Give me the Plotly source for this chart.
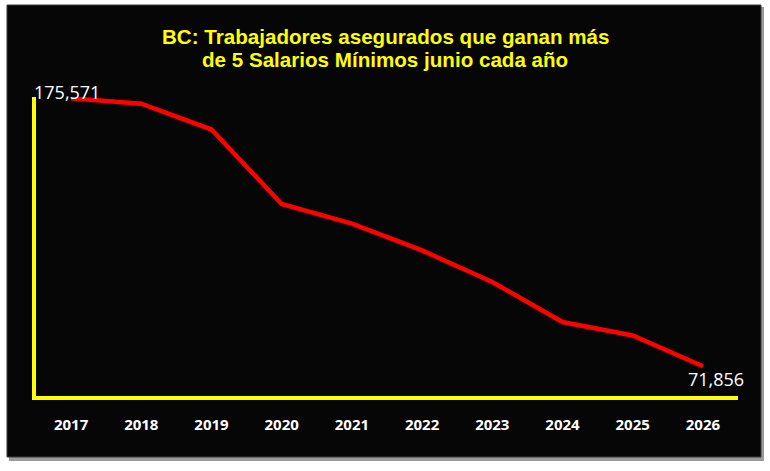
import plotly.graph_objects as go

years = [2017, 2018, 2019, 2020, 2021, 2022, 2023, 2024, 2025, 2026]
workers = [175571, 173500, 163500, 134700, 127100, 116700, 104500, 89000, 83800, 71856]
title_lines = ["BC: Trabajadores asegurados que ganan más",
               "de 5 Salarios Mínimos junio cada año"]

W, H = 770, 471
def px(x):
    return x / W
def py(y):
    return 1 - y / H

fig = go.Figure()
fig.add_trace(go.Scatter(
    x=years, y=workers, mode="lines",
    line=dict(color="#FF0000", width=4.5),
    hoverinfo="skip", showlegend=False,
))

shapes = [
    dict(type="rect", xref="paper", yref="paper", x0=px(9), x1=px(764), y0=py(461), y1=py(7),
         fillcolor="#9a9a9a", line=dict(width=0), layer="below"),
    dict(type="rect", xref="paper", yref="paper", x0=px(7), x1=px(761), y0=py(457), y1=py(5),
         fillcolor="#060606", line=dict(color="#3a3a3a", width=1), layer="below"),
]

annotations = [
    dict(text=title_lines[0], xref="paper", yref="paper", x=0.5, y=py(37),
         xanchor="center", yanchor="middle", showarrow=False,
         font=dict(family="Liberation Sans", size=20.6, color="#FFFF00", weight="bold")),
    dict(text=title_lines[1], xref="paper", yref="paper", x=0.5, y=py(59.5),
         xanchor="center", yanchor="middle", showarrow=False,
         font=dict(family="Liberation Sans", size=20.6, color="#FFFF00", weight="bold")),
    dict(text=f"{workers[0]:,}", x=years[0], y=workers[0], xref="x", yref="y",
         xanchor="center", yanchor="middle", yshift=6, xshift=-4, showarrow=False,
         font=dict(family="Open Sans", size=18, color="#FFFFFF")),
    dict(text=f"{workers[-1]:,}", x=years[-1], y=workers[-1], xref="x", yref="y",
         xanchor="center", yanchor="middle", yshift=-13, xshift=13, showarrow=False,
         font=dict(family="Open Sans", size=18, color="#FFFFFF")),
]

fig.update_layout(
    width=W, height=H,
    margin=dict(l=0, r=0, t=0, b=0),
    paper_bgcolor="#FFFFFF",
    plot_bgcolor="rgba(0,0,0,0)",
    shapes=shapes,
    annotations=annotations,
    showlegend=False,
    xaxis=dict(
        domain=[px(36), px(738)],
        range=[years[0] - 0.5, years[-1] + 0.5],
        tickmode="array", tickvals=years, ticktext=[str(y) for y in years],
        showline=True, linecolor="#FFFF00", linewidth=4,
        showgrid=False, zeroline=False,
        ticks="outside", ticklen=0, tickcolor="rgba(0,0,0,0)",
        ticklabelstandoff=12,
        tickfont=dict(family="Open Sans", size=15, color="#FFFFFF", weight="bold"),
        fixedrange=True,
    ),
    yaxis=dict(
        domain=[py(396), py(97)],
        range=[60360, 176100],
        showline=True, linecolor="#FFFF00", linewidth=4,
        showgrid=False, zeroline=False, showticklabels=False, ticks="",
        fixedrange=True,
    ),
)

fig.write_html("out.html")
